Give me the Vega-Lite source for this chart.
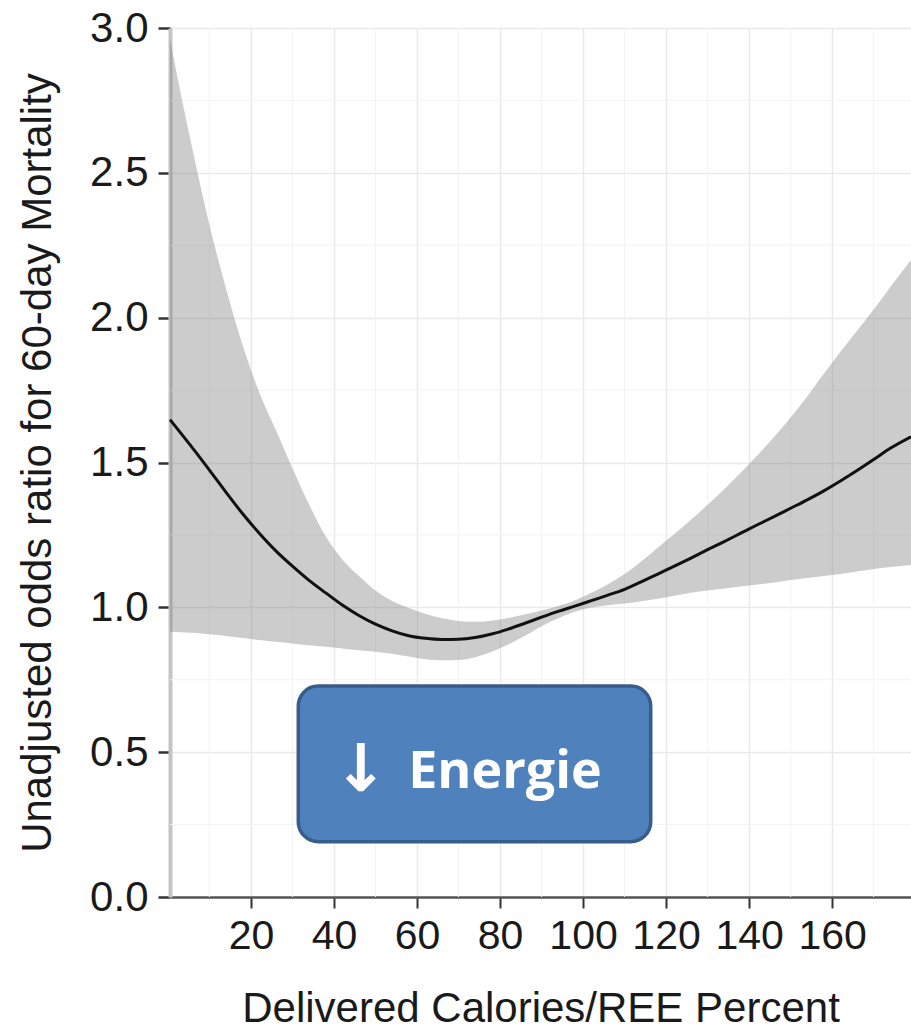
{
  "$schema": "https://vega.github.io/schema/vega-lite/v6.json",
  "width": 741,
  "height": 869,
  "autosize": "none",
  "padding": {"left": 170, "top": 28, "right": 0, "bottom": 132},
  "background": "white",
  "config": {"view": {"stroke": null}},
  "datasets": {
    "curve": [
      {"x": 0.5, "y": 1.648, "lo": 0.916, "hi": 2.96},
      {"x": 3, "y": 1.603, "lo": 0.914, "hi": 2.78},
      {"x": 6, "y": 1.549, "lo": 0.912, "hi": 2.575},
      {"x": 10, "y": 1.474, "lo": 0.907, "hi": 2.32},
      {"x": 14, "y": 1.397, "lo": 0.901, "hi": 2.1},
      {"x": 18, "y": 1.323, "lo": 0.894, "hi": 1.905},
      {"x": 22, "y": 1.256, "lo": 0.887, "hi": 1.742},
      {"x": 26, "y": 1.195, "lo": 0.881, "hi": 1.612},
      {"x": 30, "y": 1.142, "lo": 0.875, "hi": 1.48},
      {"x": 34, "y": 1.093, "lo": 0.869, "hi": 1.355},
      {"x": 38, "y": 1.05, "lo": 0.864, "hi": 1.245},
      {"x": 42, "y": 1.008, "lo": 0.858, "hi": 1.165},
      {"x": 46, "y": 0.972, "lo": 0.852, "hi": 1.108},
      {"x": 50, "y": 0.942, "lo": 0.847, "hi": 1.058},
      {"x": 54, "y": 0.919, "lo": 0.84, "hi": 1.022},
      {"x": 58, "y": 0.902, "lo": 0.83, "hi": 0.998},
      {"x": 62, "y": 0.893, "lo": 0.821, "hi": 0.978},
      {"x": 66, "y": 0.889, "lo": 0.817, "hi": 0.962},
      {"x": 70, "y": 0.89, "lo": 0.818, "hi": 0.953},
      {"x": 74, "y": 0.896, "lo": 0.828, "hi": 0.95},
      {"x": 78, "y": 0.908, "lo": 0.847, "hi": 0.954},
      {"x": 82, "y": 0.925, "lo": 0.872, "hi": 0.963},
      {"x": 86, "y": 0.945, "lo": 0.902, "hi": 0.975},
      {"x": 90, "y": 0.966, "lo": 0.935, "hi": 0.989},
      {"x": 94, "y": 0.986, "lo": 0.962, "hi": 1.005},
      {"x": 98, "y": 1.004, "lo": 0.985, "hi": 1.024},
      {"x": 102, "y": 1.023, "lo": 0.999, "hi": 1.05},
      {"x": 106, "y": 1.042, "lo": 1.007, "hi": 1.08},
      {"x": 110, "y": 1.062, "lo": 1.013, "hi": 1.115},
      {"x": 114, "y": 1.088, "lo": 1.021, "hi": 1.158},
      {"x": 118, "y": 1.115, "lo": 1.03, "hi": 1.206},
      {"x": 122, "y": 1.142, "lo": 1.04, "hi": 1.253},
      {"x": 126, "y": 1.17, "lo": 1.05, "hi": 1.302},
      {"x": 130, "y": 1.199, "lo": 1.058, "hi": 1.354},
      {"x": 134, "y": 1.227, "lo": 1.065, "hi": 1.408},
      {"x": 138, "y": 1.256, "lo": 1.072, "hi": 1.465},
      {"x": 142, "y": 1.285, "lo": 1.079, "hi": 1.525},
      {"x": 146, "y": 1.313, "lo": 1.086, "hi": 1.588},
      {"x": 150, "y": 1.342, "lo": 1.094, "hi": 1.655},
      {"x": 154, "y": 1.371, "lo": 1.101, "hi": 1.728},
      {"x": 158, "y": 1.402, "lo": 1.108, "hi": 1.806},
      {"x": 162, "y": 1.436, "lo": 1.115, "hi": 1.882},
      {"x": 166, "y": 1.472, "lo": 1.124, "hi": 1.955},
      {"x": 170, "y": 1.51, "lo": 1.132, "hi": 2.028},
      {"x": 174, "y": 1.549, "lo": 1.139, "hi": 2.105},
      {"x": 179, "y": 1.589, "lo": 1.146, "hi": 2.199}
    ],
    "minorX": [{"gx": 10}, {"gx": 30}, {"gx": 50}, {"gx": 70}, {"gx": 90}, {"gx": 110}, {"gx": 130}, {"gx": 150}, {"gx": 170}],
    "minorY": [{"gy": 0.25}, {"gy": 0.75}, {"gy": 1.25}, {"gy": 1.75}, {"gy": 2.25}, {"gy": 2.75}],
    "box": [{"x1": 31.4, "x2": 116.3, "y1": 0.191, "y2": 0.728}],
    "labels": [
      {"tx": 46.4, "ty": 0.376, "label": "↓", "part": "arrow"},
      {"tx": 81.2, "ty": 0.376, "label": "Energie", "part": "word"}
    ]
  },
  "layer": [
    {
      "data": {"name": "minorX"},
      "mark": {"type": "rule", "color": "#f3f3f3", "strokeWidth": 1},
      "encoding": {
        "x": {"field": "gx", "type": "quantitative", "scale": {"domain": [0.5, 179], "nice": false, "zero": false},
          "axis": {
            "values": [20, 40, 60, 80, 100, 120, 140, 160],
            "title": "Delivered Calories/REE Percent",
            "grid": true, "gridColor": "#e9e9e9", "gridWidth": 1.5,
            "domainColor": "#555555", "domainWidth": 2.5,
            "tickColor": "#333333", "tickWidth": 2, "tickSize": 11,
            "labelFont": "Liberation Sans", "labelFontSize": 41, "labelColor": "#1a1a1a", "labelPadding": 8,
            "titleFont": "Liberation Sans", "titleFontSize": 42, "titleFontWeight": "normal", "titleColor": "#1a1a1a",
            "titleBaseline": "alphabetic", "titleY": 124
          }
        }
      }
    },
    {
      "data": {"name": "minorY"},
      "mark": {"type": "rule", "color": "#f3f3f3", "strokeWidth": 1},
      "encoding": {
        "y": {"field": "gy", "type": "quantitative", "scale": {"domain": [0, 3], "nice": false},
          "axis": {
            "values": [0, 0.5, 1, 1.5, 2, 2.5, 3],
            "format": ".1f",
            "title": "Unadjusted odds ratio for 60-day Mortality",
            "grid": true, "gridColor": "#e9e9e9", "gridWidth": 1.5,
            "domainColor": "#c4c4c4", "domainWidth": 4,
            "tickColor": "#333333", "tickWidth": 2.5, "tickSize": 12,
            "labelFont": "Liberation Sans", "labelFontSize": 42, "labelColor": "#1a1a1a", "labelPadding": 10,
            "titleFont": "Liberation Sans", "titleFontSize": 42, "titleFontWeight": "normal", "titleColor": "#1a1a1a",
            "titleBaseline": "alphabetic", "titleX": -120
          }
        }
      }
    },
    {
      "mark": {"type": "rule", "color": "#999999", "strokeWidth": 2},
      "encoding": {"y": {"datum": 3, "type": "quantitative"}}
    },
    {
      "data": {"name": "curve"},
      "mark": {"type": "area", "color": "#7f7f7f", "opacity": 0.4, "interpolate": "monotone"},
      "encoding": {
        "x": {"field": "x", "type": "quantitative"},
        "y": {"field": "lo", "type": "quantitative"},
        "y2": {"field": "hi"}
      }
    },
    {
      "mark": {"type": "rule", "color": "#444444", "strokeWidth": 2, "strokeDash": [9, 7]},
      "encoding": {"y": {"datum": 1, "type": "quantitative"}}
    },
    {
      "data": {"name": "curve"},
      "mark": {"type": "line", "color": "#111111", "strokeWidth": 3, "interpolate": "monotone"},
      "encoding": {
        "x": {"field": "x", "type": "quantitative"},
        "y": {"field": "y", "type": "quantitative"}
      }
    },
    {
      "data": {"name": "box"},
      "mark": {"type": "rect", "color": "#4f81bd", "stroke": "#385d8a", "strokeWidth": 3.5, "cornerRadius": 20},
      "encoding": {
        "x": {"field": "x1", "type": "quantitative"},
        "x2": {"field": "x2"},
        "y": {"field": "y1", "type": "quantitative"},
        "y2": {"field": "y2"}
      }
    },
    {
      "data": {"name": "labels"},
      "transform": [{"filter": "datum.part === 'arrow'"}],
      "mark": {"type": "text", "color": "white", "font": "DejaVu Sans", "fontWeight": "bold", "fontSize": 66, "align": "center", "baseline": "alphabetic", "dy": 3},
      "encoding": {
        "x": {"field": "tx", "type": "quantitative"},
        "y": {"field": "ty", "type": "quantitative"},
        "text": {"field": "label"}
      }
    },
    {
      "data": {"name": "labels"},
      "transform": [{"filter": "datum.part === 'word'"}],
      "mark": {"type": "text", "color": "white", "font": "Open Sans", "fontWeight": "bold", "fontSize": 52, "align": "center", "baseline": "alphabetic"},
      "encoding": {
        "x": {"field": "tx", "type": "quantitative"},
        "y": {"field": "ty", "type": "quantitative"},
        "text": {"field": "label"}
      }
    }
  ]
}
